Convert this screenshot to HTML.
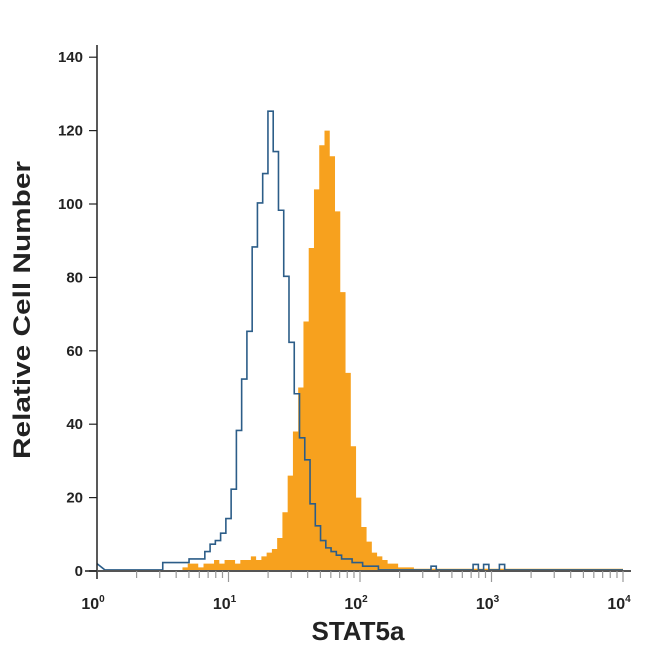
<!DOCTYPE html>
<html><head><meta charset="utf-8"><style>
body{margin:0;background:#fff;}
svg text{font-family:"Liberation Sans",sans-serif;font-weight:bold;fill:#222;}
</style></head><body>
<svg id="chart" width="650" height="650">
<g id="plot"></g>
<text x="30" y="310" font-size="24" text-anchor="middle" textLength="298" lengthAdjust="spacingAndGlyphs" transform="rotate(-90 30 310)">Relative Cell Number</text>
<text x="358" y="640" font-size="26" text-anchor="middle">STAT5a</text>
</svg>
<script>
const yTicks=[0,20,40,60,80,100,120,140];
const xDecades=[0,1,2,3,4];
const binStep=0.04;
const blueStart=0.5;
const blueCounts=[2,2,2,2,2,3,3,3,5,7,8,10,14,22,38,52,65,88,100,108,125,114,98,80,62,48,36,30,18,12,8,6,5,4,3,3,2,2,1,1,1,0,0,0,0,0,0,0,0,0,0,1,0,0,0,0,0,0,0,1.5,0,1.5,0,0,1.5,0,0,0,0,0];
const orangeStart=0.65;
const orangeCounts=[1,2,2,1,2,2,3,2,3,3,2,3,3,4,3,4,5,6,9,16,26,38,50,68,88,104,116,120,113,98,76,54,34,20,12,8,5,4,3,2,2,1,1,1];
const X0=97,DEC=131.5,Y0=571,PY=73.4/20;
const xs=l=>X0+l*DEC, ys=v=>Y0-v*PY;
const NS='http://www.w3.org/2000/svg';
const plot=document.getElementById('plot');
function mk(t,a){const e=document.createElementNS(NS,t);for(const k in a)e.setAttribute(k,a[k]);plot.appendChild(e);return e;}
let d=`M${xs(orangeStart)},${ys(0)}`;
orangeCounts.forEach((v,i)=>{const a=xs(orangeStart+i*binStep),b=xs(orangeStart+(i+1)*binStep);d+=`L${a},${ys(v)}L${b},${ys(v)}`;});
const oEnd=orangeStart+orangeCounts.length*binStep;
d+=`L${xs(oEnd)},${ys(0.6)}L${xs(4)},${ys(0.6)}L${xs(4)},${ys(0)}Z`;
const o=mk('path',{d:d,fill:'#f7a11e'});


let bd=`M${xs(0)},${ys(2)}L${xs(0.06)},${ys(0.3)}L${xs(blueStart)},${ys(0.3)}`;
blueCounts.forEach((v,i)=>{const a=xs(blueStart+i*binStep),b=xs(blueStart+(i+1)*binStep);bd+=`L${a},${ys(v+0.3)}L${b},${ys(v+0.3)}`;});
bd+=`L${xs(4)},${ys(0.3)}`;
const bl=mk('path',{d:bd,fill:'none',stroke:'#2c5d88','stroke-width':1.6});


const ya=mk('line',{x1:X0,y1:45,x2:X0,y2:Y0+8,stroke:'#222','stroke-width':1.5});


const xa=mk('line',{x1:X0-12,y1:Y0,x2:xs(4)+8,y2:Y0,stroke:'#555','stroke-width':2});


yTicks.forEach(t=>{
 const l=mk('line',{x1:X0-8,y1:ys(t),x2:X0,y2:ys(t),stroke:'#222','stroke-width':1.2});
 
 
 const tx=mk('text',{x:X0-14,y:ys(t)+5,'font-size':15,'text-anchor':'end'});tx.textContent=t;
 
 
});
xDecades.forEach(k=>{
 const tx=mk('text',{x:xs(k)-4,y:Y0+38,'font-size':16,'text-anchor':'middle'});
 tx.innerHTML=`10<tspan font-size="10" dy="-7">${k}</tspan>`;
 
 
 if(k<4)for(let m=2;m<=10;m++){const x=xs(k+Math.log10(m));
  const l=mk('line',{x1:x,y1:Y0,x2:x,y2:Y0+(m==10?11:7),stroke:'#999','stroke-width':1.2});
  
  }
});
</script>
</body></html>
